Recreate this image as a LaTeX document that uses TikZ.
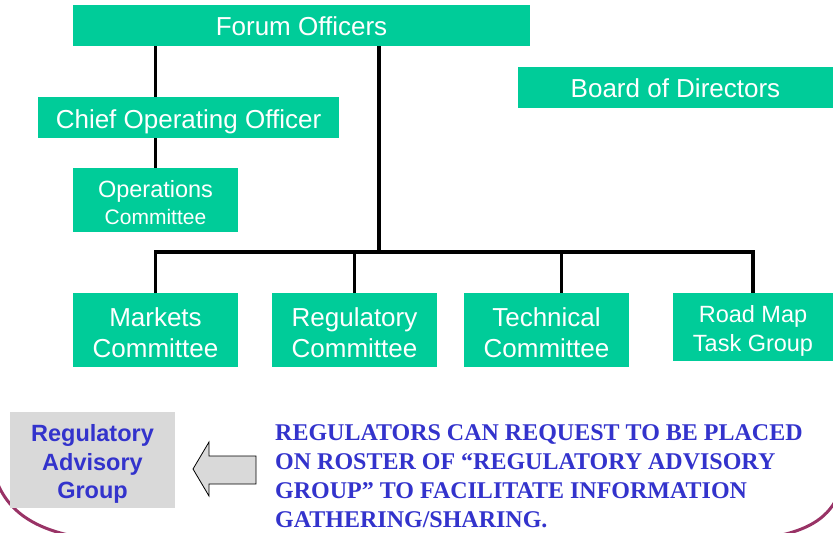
\documentclass[tikz,border=0pt]{standalone}
\usepackage{fontspec}
\setmainfont{Liberation Sans}
\newfontfamily\capfont{Liberation Serif}
\definecolor{orggreen}{HTML}{00CC99}
\definecolor{advgray}{HTML}{D9D9D9}
\definecolor{advblue}{HTML}{3333CC}
\definecolor{rimred}{HTML}{993366}
\tikzset{orgbox/.style={fill=orggreen, text=white, align=center, inner sep=0pt, text depth=0pt, font=\fontsize{26}{31}\selectfont},
         orgline/.style={line width=3.2pt},
         advbox/.style={fill=advgray, text=advblue, align=center, inner sep=0pt, text depth=0pt, font=\bfseries\fontsize{23.5}{28.5}\selectfont}}

\begin{document}
\begin{tikzpicture}[x=1pt, y=-1pt] % pixel grid, y grows downwards
  \useasboundingbox (0,0) rectangle (833,533);
  % rim of the slide behind everything
  \draw[rimred, line width=3pt] (-3,482) .. controls (10,515) and (40,530) .. (78,537);
  \draw[rimred, line width=3pt] (837,498) .. controls (826,520) and (805,531) .. (772,537);

  \node[orgbox, minimum width=457, minimum height=41, text height=20pt] (forum) at (301.5,25.5) {Forum Officers};
  \node[orgbox, minimum width=301, minimum height=41, text height=21pt] (coo) at (188.5,117.5) {Chief Operating Officer};
  \node[orgbox, minimum width=165, minimum height=64, text height=48pt, font=\fontsize{23.5}{27}\selectfont] (ops) at (155.5,200)
        {Operations\\{\fontsize{21}{24}\selectfont Committee}};
  \node[orgbox, minimum width=315, minimum height=41, text height=20pt] (board) at (675.5,87.5) {Board of Directors};

  \node[orgbox, minimum width=165, minimum height=74, text height=55.5pt] (markets) at (155.5,330) {Markets\\Committee};
  \node[orgbox, minimum width=165, minimum height=74, text height=55.5pt] (regul) at (354.5,330) {Regulatory\\Committee};
  \node[orgbox, minimum width=165, minimum height=74, text height=55.5pt] (tech) at (546.5,330) {Technical\\Committee};
  \node[orgbox, minimum width=160, minimum height=68, text height=48pt, font=\fontsize{23.5}{29}\selectfont] (road) at (753,327) {Road Map\\Task Group};

  \coordinate (bus) at (379,252);
  \coordinate (techtap) at (561.5,252);
  \draw[orgline] (forum.south -| ops.north) -- (coo.north -| ops.north);
  \draw[orgline] (coo.south -| ops.north) -- (ops.north);
  \draw[orgline] (forum.south -| bus) -- (bus);
  \draw[orgline] (markets.north) -- (markets.north |- bus) -- (road.north |- bus) -- (road.north);
  \draw[orgline] (regul.north |- bus) -- (regul.north);
  \draw[orgline] (techtap) -- (techtap |- tech.north);

  % advisory group and the hollow arrow
  \node[advbox, minimum width=165, minimum height=96, text height=77pt] (adv) at (92.5,460) {Regulatory\\Advisory\\Group};
  \draw[fill=advgray, line width=0.8pt] (193,469) -- (209,442) -- (209,456) -- (256,456)
        -- (256,484) -- (209,484) -- (209,496) -- cycle;
  \node[anchor=north west, inner sep=0pt, align=left, text=advblue, font=\capfont\bfseries\fontsize{24}{29}\selectfont] (note) at (275,424.5)
        {REGULATORS CAN REQUEST TO BE PLACED\\ON ROSTER OF “REGULATORY ADVISORY\\GROUP” TO FACILITATE INFORMATION\\GATHERING/SHARING.};
\end{tikzpicture}
\end{document}
